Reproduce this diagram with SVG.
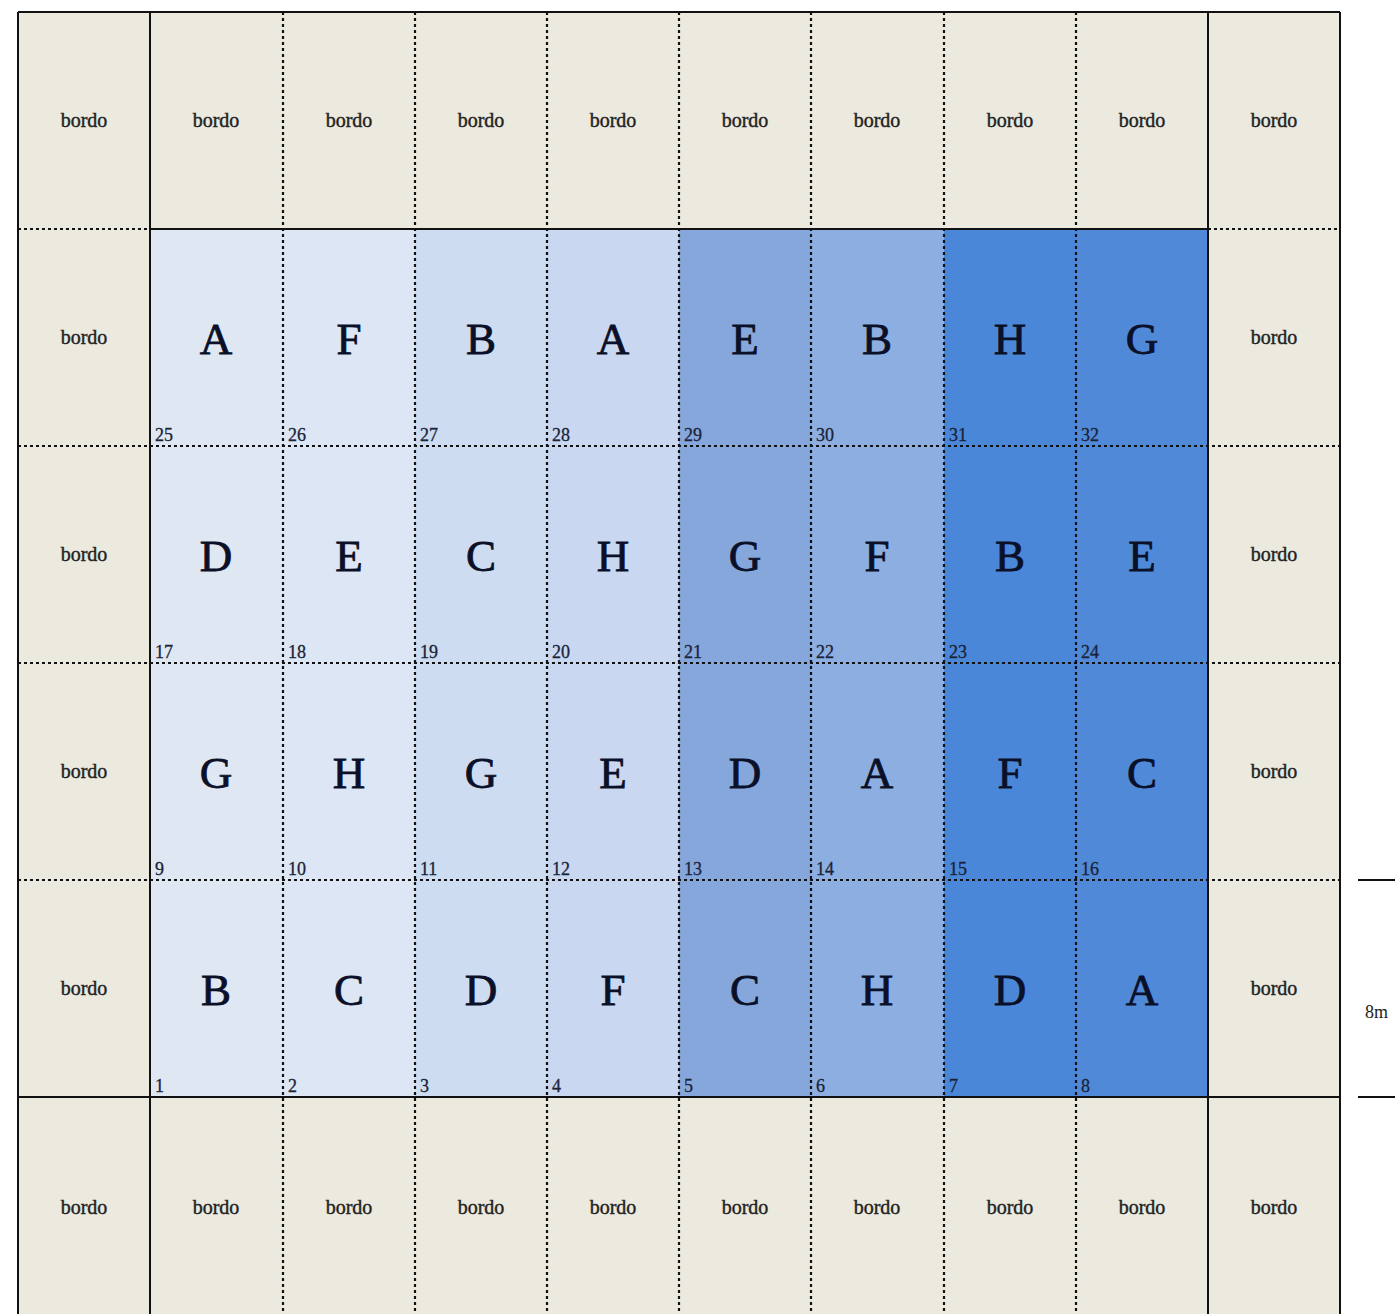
<svg xmlns="http://www.w3.org/2000/svg" width="1395" height="1314" viewBox="0 0 1395 1314">
<style>
.b{fill:#ece9df}
.c1{fill:#dfe7f3}.c2{fill:#dde6f4}.c3{fill:#cddcf1}.c4{fill:#c9d8f0}
.c5{fill:#86a7dc}.c6{fill:#8caee1}.c7{fill:#4a87d8}.c8{fill:#5189d9}
.bt{font-family:"Liberation Serif","Times New Roman",serif;font-size:20px;fill:#222;stroke:#222;stroke-width:0.4;text-anchor:middle}
.L{font-family:"Liberation Serif","Times New Roman",serif;font-size:45px;fill:#0a1028;stroke:#0a1028;stroke-width:0.8;text-anchor:middle}
.n{font-family:"Liberation Serif","Times New Roman",serif;font-size:18px;fill:#1a2338;stroke:#1a2338;stroke-width:0.3}
.s{stroke:#111;stroke-width:2;fill:none}
.d{stroke:#111;stroke-width:2.2;stroke-dasharray:3 3;fill:none}
.dim{font-family:"Liberation Serif","Times New Roman",serif;font-size:18px;fill:#222}
</style>
<rect x="0" y="0" width="1395" height="1314" fill="#ffffff"/>
<g id="border-cells">
<g id="b-top"><rect class="b" x="18" y="12" width="1322" height="217"/></g>
<g id="b-bottom"><rect class="b" x="18" y="1097" width="1322" height="217"/></g>
<g id="b-left"><rect class="b" x="18" y="229" width="132" height="868"/></g>
<g id="b-right"><rect class="b" x="1208" y="229" width="132" height="868"/></g>
</g>
<g id="plot-cells">
<rect class="c1" x="150" y="229" width="133" height="868"/>
<rect class="c2" x="283" y="229" width="132" height="868"/>
<rect class="c3" x="415" y="229" width="132" height="868"/>
<rect class="c4" x="547" y="229" width="132" height="868"/>
<rect class="c5" x="679" y="229" width="132" height="868"/>
<rect class="c6" x="811" y="229" width="133" height="868"/>
<rect class="c7" x="944" y="229" width="132" height="868"/>
<rect class="c8" x="1076" y="229" width="132" height="868"/>
</g>
<g id="bordo-labels">
<text class="bt" x="84" y="127">bordo</text>
<text class="bt" x="216" y="127">bordo</text>
<text class="bt" x="349" y="127">bordo</text>
<text class="bt" x="481" y="127">bordo</text>
<text class="bt" x="613" y="127">bordo</text>
<text class="bt" x="745" y="127">bordo</text>
<text class="bt" x="877" y="127">bordo</text>
<text class="bt" x="1010" y="127">bordo</text>
<text class="bt" x="1142" y="127">bordo</text>
<text class="bt" x="1274" y="127">bordo</text>
<text class="bt" x="84" y="344">bordo</text>
<text class="bt" x="1274" y="344">bordo</text>
<text class="bt" x="84" y="561">bordo</text>
<text class="bt" x="1274" y="561">bordo</text>
<text class="bt" x="84" y="778">bordo</text>
<text class="bt" x="1274" y="778">bordo</text>
<text class="bt" x="84" y="995">bordo</text>
<text class="bt" x="1274" y="995">bordo</text>
<text class="bt" x="84" y="1214">bordo</text>
<text class="bt" x="216" y="1214">bordo</text>
<text class="bt" x="349" y="1214">bordo</text>
<text class="bt" x="481" y="1214">bordo</text>
<text class="bt" x="613" y="1214">bordo</text>
<text class="bt" x="745" y="1214">bordo</text>
<text class="bt" x="877" y="1214">bordo</text>
<text class="bt" x="1010" y="1214">bordo</text>
<text class="bt" x="1142" y="1214">bordo</text>
<text class="bt" x="1274" y="1214">bordo</text>
</g>
<g id="plot-labels">
<g id="row4">
<text class="L" x="216" y="354">A</text><text class="n" x="155" y="441">25</text>
<text class="L" x="349" y="354">F</text><text class="n" x="288" y="441">26</text>
<text class="L" x="481" y="354">B</text><text class="n" x="420" y="441">27</text>
<text class="L" x="613" y="354">A</text><text class="n" x="552" y="441">28</text>
<text class="L" x="745" y="354">E</text><text class="n" x="684" y="441">29</text>
<text class="L" x="877" y="354">B</text><text class="n" x="816" y="441">30</text>
<text class="L" x="1010" y="354">H</text><text class="n" x="949" y="441">31</text>
<text class="L" x="1142" y="354">G</text><text class="n" x="1081" y="441">32</text>
</g>
<g id="row3">
<text class="L" x="216" y="571">D</text><text class="n" x="155" y="658">17</text>
<text class="L" x="349" y="571">E</text><text class="n" x="288" y="658">18</text>
<text class="L" x="481" y="571">C</text><text class="n" x="420" y="658">19</text>
<text class="L" x="613" y="571">H</text><text class="n" x="552" y="658">20</text>
<text class="L" x="745" y="571">G</text><text class="n" x="684" y="658">21</text>
<text class="L" x="877" y="571">F</text><text class="n" x="816" y="658">22</text>
<text class="L" x="1010" y="571">B</text><text class="n" x="949" y="658">23</text>
<text class="L" x="1142" y="571">E</text><text class="n" x="1081" y="658">24</text>
</g>
<g id="row2">
<text class="L" x="216" y="788">G</text><text class="n" x="155" y="875">9</text>
<text class="L" x="349" y="788">H</text><text class="n" x="288" y="875">10</text>
<text class="L" x="481" y="788">G</text><text class="n" x="420" y="875">11</text>
<text class="L" x="613" y="788">E</text><text class="n" x="552" y="875">12</text>
<text class="L" x="745" y="788">D</text><text class="n" x="684" y="875">13</text>
<text class="L" x="877" y="788">A</text><text class="n" x="816" y="875">14</text>
<text class="L" x="1010" y="788">F</text><text class="n" x="949" y="875">15</text>
<text class="L" x="1142" y="788">C</text><text class="n" x="1081" y="875">16</text>
</g>
<g id="row1">
<text class="L" x="216" y="1005">B</text><text class="n" x="155" y="1092">1</text>
<text class="L" x="349" y="1005">C</text><text class="n" x="288" y="1092">2</text>
<text class="L" x="481" y="1005">D</text><text class="n" x="420" y="1092">3</text>
<text class="L" x="613" y="1005">F</text><text class="n" x="552" y="1092">4</text>
<text class="L" x="745" y="1005">C</text><text class="n" x="684" y="1092">5</text>
<text class="L" x="877" y="1005">H</text><text class="n" x="816" y="1092">6</text>
<text class="L" x="1010" y="1005">D</text><text class="n" x="949" y="1092">7</text>
<text class="L" x="1142" y="1005">A</text><text class="n" x="1081" y="1092">8</text>
</g>
</g>
<g id="connectors">
<path class="d" d="M283 12V1314M415 12V1314M547 12V1314M679 12V1314M811 12V1314M944 12V1314M1076 12V1314"/>
<path class="d" d="M18 229H150M1208 229H1340M18 446H1340M18 663H1340M18 880H1340"/>
<path class="s" d="M18 12H1340M18 12V1314M150 12V1314M1208 12V1314M1340 12V1314M150 229H1208M18 1097H1340"/>
</g>
<g id="dimension">
<path class="s" d="M1358 880H1395M1358 1097H1395"/>
<text class="dim" x="1365" y="1018">8m</text>
</g>
</svg>
